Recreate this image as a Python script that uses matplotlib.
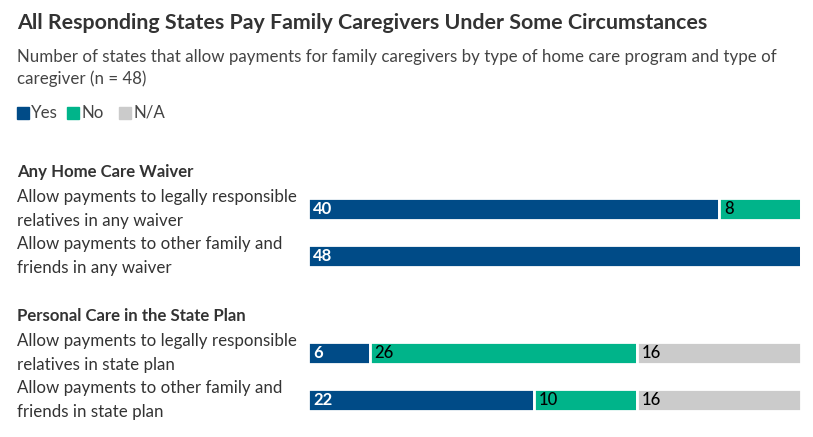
import matplotlib.pyplot as plt
from matplotlib.patches import Rectangle

# data
groups = ['Any Home Care Waiver', 'Personal Care in the State Plan']
rows = [
    ['Allow payments to legally responsible\nrelatives in any waiver',
     'Allow payments to other family and\nfriends in any waiver'],
    ['Allow payments to legally responsible\nrelatives in state plan',
     'Allow payments to other family and\nfriends in state plan'],
]
series = ['Yes', 'No', 'N/A']
yes_vals = [40, 48, 6, 22]
no_vals = [8, 0, 26, 10]
na_vals = [0, 0, 16, 16]
colors = ['#004b87', '#00b48a', '#cbcbcb']
label_colors = ['white', 'black', 'black']

W, H = 813, 437
plt.rcParams['font.family'] = ['Lato', 'DejaVu Sans']
txt = '#333333'

fig = plt.figure(figsize=(W / 100, H / 100), dpi=100)


def fx(x):
    return x / W


def fy(y):
    return 1 - y / H


fig.text(fx(17), fy(23), 'All Responding States Pay Family Caregivers Under Some Circumstances',
         fontsize=15.4, fontweight='bold', color=txt, va='center')
fig.text(fx(17), fy(57), 'Number of states that allow payments for family caregivers by type of home care program and type of',
         fontsize=12.2, color='#444444', va='center')
fig.text(fx(17), fy(79), 'caregiver (n = 48)', fontsize=12.2, color='#444444', va='center')

# legend
lx = [17, 67, 119]
for i, s in enumerate(series):
    fig.patches.append(Rectangle((fx(lx[i]), fy(119)), 12 / W, 12 / H,
                                 transform=fig.transFigure, color=colors[i]))
    fig.text(fx(lx[i] + 14), fy(113), s, fontsize=12.2, color='#444444', va='center')

# bars
ax = fig.add_axes([fx(308), 0, 493 / W, 1])
ax.set_ylim(H, 0)
ax.set_xlim(0, 48)
ax.axis('off')

row_step = 47
group_gap = 50
first_row = 209
ypos = []
k = 0
for g in range(len(groups)):
    for r in range(len(rows[g])):
        ypos.append(first_row + k * row_step + g * group_gap)
        k += 1

vals = [yes_vals, no_vals, na_vals]
left = [0] * len(ypos)
for si in range(len(series)):
    bars = ax.barh(ypos, vals[si], left=left, height=21.5, color=colors[si],
                   edgecolor='white', linewidth=2)
    for j, b in enumerate(bars):
        v = vals[si][j]
        if v > 0:
            ax.annotate(str(v), (left[j], ypos[j]), xytext=(5, 0),
                        textcoords='offset pixels', va='center', ha='left',
                        fontsize=12, color=label_colors[si],
                        fontweight='bold' if si == 0 else 'medium')
    left = [a + b for a, b in zip(left, vals[si])]

# group headers and row labels
k = 0
for g in range(len(groups)):
    fig.text(fx(17), fy(ypos[k] - 37), groups[g], fontsize=12.1,
             fontweight='bold', color=txt, va='center')
    for r in range(len(rows[g])):
        fig.text(fx(17), fy(ypos[k]), rows[g][r], fontsize=12.2, color=txt,
                 va='center', linespacing=1.55)
        k += 1

fig.savefig('out.png', dpi=100)
